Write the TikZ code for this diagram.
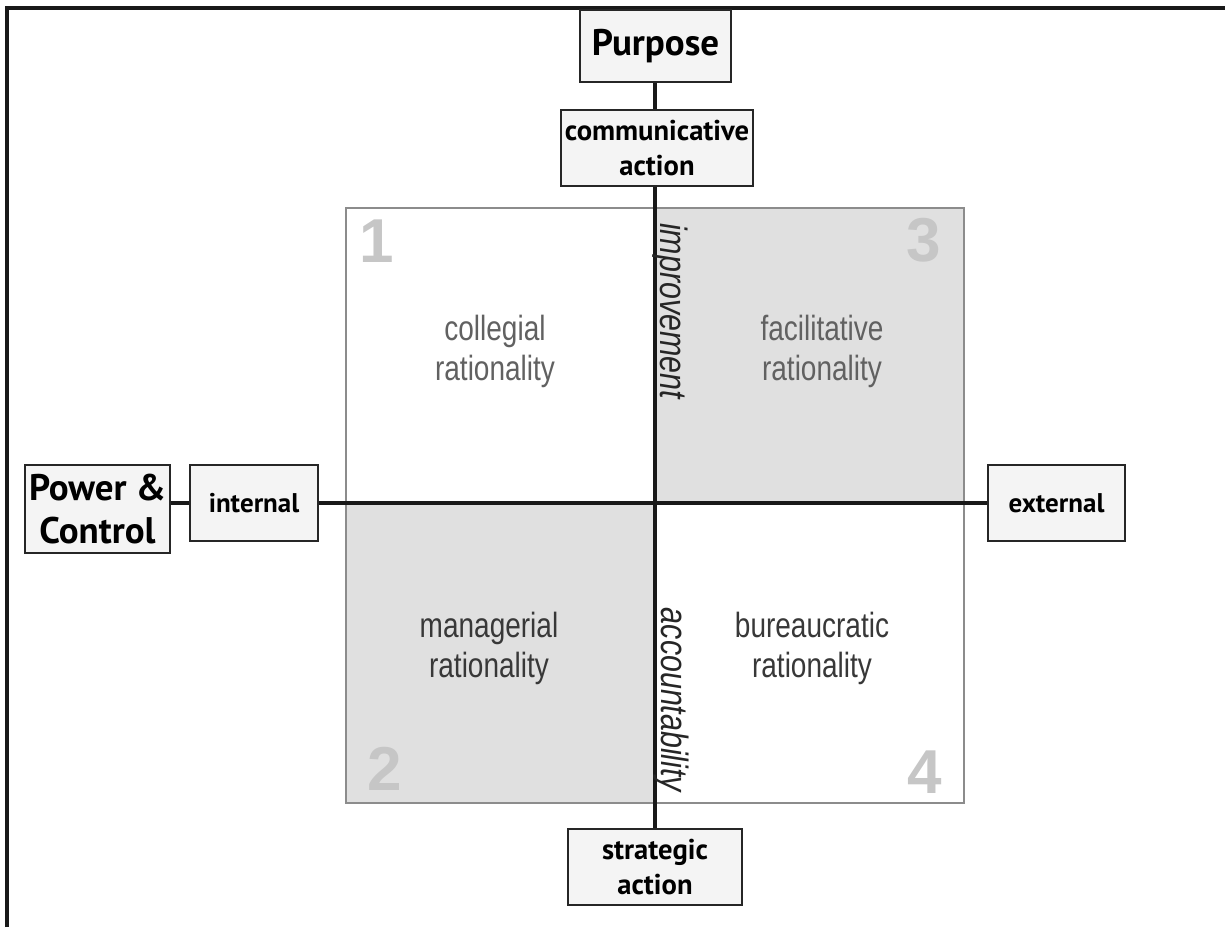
\documentclass[tikz,border=0pt]{standalone}
\usepackage{fontspec}
\setmainfont{PT Sans}
\newfontfamily\quadfont[FakeStretch=0.8]{Liberation Sans}
\newfontfamily\numfont{Liberation Sans}
\definecolor{quadgray}{HTML}{E0E0E0}
\definecolor{numgray}{HTML}{C6C6C6}
\definecolor{boxgray}{HTML}{F4F4F4}
\tikzset{
  axisbox/.style={draw=black!85, fill=boxgray, line width=0.9pt, inner sep=0pt, align=center,
    font=\bfseries\fontsize{14.3}{17.5}\selectfont},
  sidebox/.style={axisbox, font=\bfseries\fontsize{13.5}{17.5}\selectfont},
  headbox/.style={axisbox, font=\bfseries\fontsize{18.5}{21.5}\selectfont},
  axis/.style={line width=1.8pt, black!90},
  quadtext/.style={align=center, font=\quadfont\fontsize{17.5}{20}\selectfont},
  quadnum/.style={text=numgray, font=\numfont\bfseries\fontsize{31}{31}\selectfont},
  axislabel/.style={rotate=-90, text=black!85, font=\quadfont\itshape\fontsize{19}{20}\selectfont},
}
\begin{document}
\begin{tikzpicture}[x=0.5pt, y=-0.5pt]
    \useasboundingbox (0,0) rectangle (1225,927);
    % Coordinates
    \coordinate (A) at (346, 208);
    \coordinate (B) at (964, 208);
    \coordinate (C) at (964, 803);
    \coordinate (D) at (346, 803);
    \coordinate (O) at (655, 503);

    % Frame
    \draw[line width=1.6pt, black!90] (7,927) -- (7,8) -- (1225,8);

    % Quadrants
    \fill[quadgray] (O) rectangle (B);
    \fill[quadgray] (O) rectangle (D);
    \draw[line width=1.1pt, black!45] (A) rectangle (C);

    % Nodes
    \node[headbox, minimum width=75.5pt, minimum height=36pt] (P) at (655.5, 46) {Purpose};
    \node[axisbox, minimum width=96pt, minimum height=38pt] (CA) at (657, 148) {communicative\\action};
    \node[axisbox, minimum width=87pt, minimum height=38pt] (SA) at (655, 867) {strategic\\action};
    \node[headbox, minimum width=72.5pt, minimum height=44pt] (PC) at (97.5, 509) {Power \&\\Control};
    \node[sidebox, minimum width=64pt, minimum height=38pt] (IN) at (254, 503) {internal};
    \node[sidebox, minimum width=68.5pt, minimum height=38pt] (EX) at (1056.5, 503) {external};

    % Drawing
    \draw[axis] (P.south -| O) -- (CA.north -| O);
    \draw[axis] (CA.south -| O) -- (SA.north -| O);
    \draw[axis] (PC.east |- IN) -- (IN);
    \draw[axis] (IN) -- (EX);

    \node[quadtext, text=black!62] (Q1) at (495, 351) {collegial\\rationality};
    \node[quadtext, text=black!62] (Q3) at (822, 351) {facilitative\\rationality};
    \node[quadtext, text=black!78] (Q2) at (489, 648) {managerial\\rationality};
    \node[quadtext, text=black!78] (Q4) at (812, 648) {bureaucratic\\rationality};

    \node[quadnum] (N1) at (377, 241) {1};
    \node[quadnum] (N3) at (924, 240) {3};
    \node[quadnum] (N2) at (385, 769) {2};
    \node[quadnum] (N4) at (925, 772) {4};

    \node[axislabel] (IM) at (670, 311) {improvement};
    \node[axislabel] (AC) at (671, 700) {accountability};
  \end{tikzpicture}
\end{document}
